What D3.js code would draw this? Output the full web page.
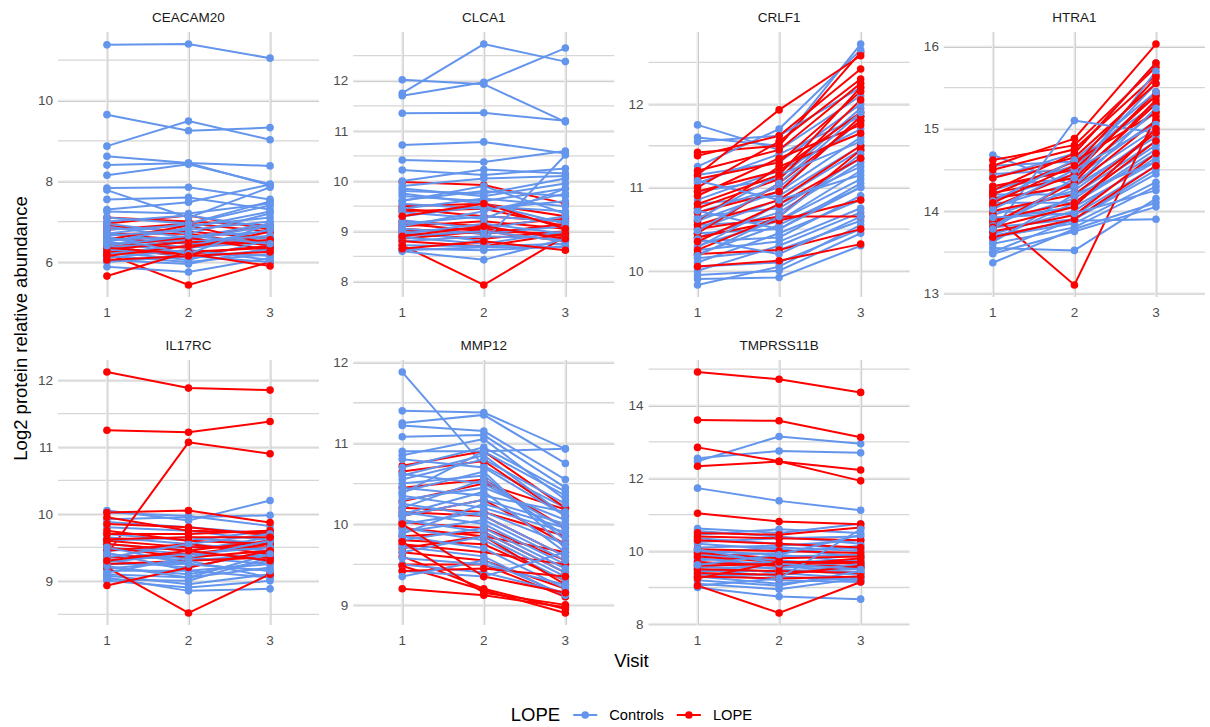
<!DOCTYPE html>
<html>
<head>
<meta charset="utf-8">
<script src="https://cdn.jsdelivr.net/npm/d3@7"></script>
<style>
  body { margin: 0; background: #fff; }
  svg { display: block; }
  text { font-family: "Liberation Sans", Arial, sans-serif; }
</style>
</head>
<body>
<div id="chart"></div>
<script>
// visits (x categories) and groups
var visits = ["1", "2", "3"];
var groups = ["Controls", "LOPE"];

// one row per subject: [visit1, visit2, visit3]
var ceacam20Controls = [
  [11.38, 11.40, 11.05], [9.65, 9.25, 9.33], [8.87, 9.49, 9.03], [8.62, 8.45, 7.90],
  [8.40, 8.45, 8.38], [8.15, 8.42, 7.93], [7.83, 7.85, 7.55], [7.78, 7.10, 7.85],
  [7.55, 7.60, 7.30], [7.30, 7.48, 7.92], [7.25, 7.20, 7.45], [7.10, 6.95, 7.40],
  [7.00, 7.15, 6.85], [6.95, 6.70, 7.20], [6.88, 6.60, 6.95], [6.80, 6.90, 7.10],
  [6.72, 6.45, 6.60], [6.65, 6.80, 7.00], [6.60, 6.35, 6.50], [6.55, 6.62, 6.75],
  [6.50, 6.20, 6.40], [6.45, 6.55, 6.90], [6.40, 6.10, 6.30], [6.35, 6.50, 6.65],
  [6.30, 6.25, 6.15], [6.25, 6.05, 6.55], [6.20, 6.40, 6.80], [6.15, 6.00, 6.20],
  [6.10, 6.30, 6.05], [6.05, 5.95, 6.35], [6.00, 6.15, 6.00], [5.88, 5.75, 6.10],
  [6.50, 6.85, 7.25], [6.70, 6.95, 7.50], [6.40, 6.65, 6.45], [6.62, 6.20, 6.95]
];
var ceacam20Lope = [
  [7.10, 7.00, 6.90], [6.95, 7.15, 6.80], [6.90, 6.75, 6.60], [6.80, 6.95, 6.75],
  [6.70, 6.70, 6.40], [6.68, 6.55, 6.95], [6.60, 6.45, 6.50], [6.55, 6.90, 6.45],
  [6.45, 6.35, 6.75], [6.40, 6.60, 6.30], [6.30, 6.50, 6.45], [6.25, 6.20, 6.40],
  [6.20, 5.43, 6.00], [6.15, 6.40, 6.55], [5.65, 6.25, 6.35], [6.35, 6.20, 5.90],
  [6.05, 6.15, 6.25]
];

var clca1Controls = [
  [11.75, 12.73, 12.38], [11.70, 11.97, 12.65], [12.02, 11.93, 11.18], [11.35, 11.36, 11.20],
  [10.72, 10.78, 10.55], [10.42, 10.38, 10.60], [10.22, 10.12, 10.25], [10.00, 10.23, 10.15],
  [9.90, 10.05, 10.10], [9.85, 9.70, 9.95], [9.80, 9.75, 10.05], [9.70, 9.60, 9.85],
  [9.62, 9.80, 9.70], [9.55, 9.45, 9.60], [9.45, 9.65, 9.50], [9.38, 9.25, 9.85],
  [9.30, 9.50, 9.40], [9.22, 9.05, 9.30], [9.15, 9.30, 9.20], [9.05, 8.95, 9.10],
  [9.00, 8.80, 10.52], [8.95, 9.15, 8.95], [8.88, 8.75, 9.00], [8.80, 8.90, 8.85],
  [8.72, 8.70, 8.75], [8.65, 8.62, 8.70], [8.60, 8.43, 8.85], [8.62, 8.68, 8.68],
  [9.60, 9.90, 9.35], [9.75, 9.55, 9.15], [9.10, 9.40, 9.75], [8.90, 9.00, 8.80]
];
var clca1Lope = [
  [9.98, 9.92, 9.55], [9.50, 9.55, 9.30], [9.45, 9.30, 9.20], [9.40, 9.45, 9.10],
  [9.20, 9.10, 9.25], [9.15, 9.00, 8.95], [9.10, 9.20, 9.05], [9.05, 8.95, 9.15],
  [9.00, 9.05, 8.90], [8.95, 8.85, 9.00], [8.85, 9.00, 8.80], [8.80, 8.70, 8.95],
  [8.72, 7.93, 8.90], [8.65, 8.80, 8.62], [9.30, 9.55, 9.05], [8.90, 9.10, 8.85]
];

var crlf1Controls = [
  [11.75, 11.45, 12.10], [11.60, 11.50, 12.72], [11.55, 11.62, 12.20], [11.25, 11.70, 12.65],
  [11.15, 11.30, 12.00], [11.05, 11.40, 11.85], [10.95, 11.10, 11.95], [10.85, 11.20, 11.70],
  [10.80, 10.90, 11.50], [10.70, 11.00, 11.80], [10.65, 10.75, 11.35], [10.60, 10.95, 11.60],
  [10.55, 10.60, 11.20], [10.50, 10.85, 11.45], [10.45, 10.50, 11.05], [10.40, 10.70, 11.30],
  [10.35, 10.40, 10.90], [10.30, 10.60, 11.10], [10.25, 10.35, 10.75], [10.20, 10.55, 11.00],
  [10.15, 10.25, 10.60], [10.10, 10.45, 10.85], [10.05, 10.10, 10.50], [10.00, 10.30, 10.70],
  [9.95, 10.00, 10.45], [9.90, 9.92, 10.30], [9.83, 10.05, 10.55], [10.28, 10.80, 11.25],
  [10.62, 11.15, 11.55], [10.38, 10.20, 10.65], [10.72, 10.50, 11.00], [10.48, 11.05, 11.90],
  [10.18, 10.65, 11.40], [11.08, 10.85, 11.15]
];
var crlf1Lope = [
  [11.42, 11.50, 12.62], [11.38, 11.62, 12.42], [11.15, 11.93, 12.58], [11.20, 11.45, 12.25],
  [11.10, 11.30, 12.15], [11.00, 11.55, 12.30], [10.95, 11.20, 11.90], [10.90, 11.35, 11.75],
  [10.75, 11.10, 12.05], [10.70, 10.95, 11.85], [10.60, 11.25, 11.65], [10.55, 10.85, 11.50],
  [10.50, 10.65, 11.45], [10.45, 11.05, 11.80], [10.40, 10.60, 10.85], [10.20, 10.25, 10.50],
  [10.25, 10.65, 10.65], [10.05, 10.12, 10.32], [10.35, 10.80, 11.35], [10.80, 11.15, 12.20]
];

var htra1Controls = [
  [14.68, 14.30, 14.90], [14.55, 14.60, 15.30], [14.45, 14.50, 15.55], [14.40, 14.70, 15.80],
  [14.30, 14.40, 15.10], [14.25, 14.55, 15.40], [14.20, 14.20, 14.85], [14.15, 14.45, 15.20],
  [14.10, 14.10, 14.70], [14.05, 14.35, 15.00], [14.00, 13.95, 14.55], [13.95, 14.25, 14.95],
  [13.90, 14.05, 14.60], [13.85, 14.15, 14.80], [13.80, 13.90, 14.45], [13.75, 15.10, 14.95],
  [13.72, 14.00, 14.65], [13.68, 13.85, 14.35], [13.65, 14.10, 14.75], [13.60, 13.80, 14.30],
  [13.55, 13.52, 14.15], [13.50, 13.90, 14.50], [13.48, 13.75, 14.05], [13.37, 13.78, 14.10],
  [13.70, 13.88, 13.90], [13.82, 14.30, 15.25], [14.02, 14.50, 15.05], [13.62, 14.20, 14.60],
  [13.92, 13.97, 14.25], [14.12, 14.62, 15.45], [13.78, 14.40, 15.70]
];
var htra1Lope = [
  [14.62, 14.80, 15.75], [14.55, 14.88, 16.03], [14.50, 14.75, 15.65], [14.40, 14.65, 15.55],
  [14.30, 14.50, 15.40], [14.25, 14.70, 15.80], [14.22, 14.40, 15.30], [14.20, 14.60, 15.20],
  [14.15, 14.30, 15.10], [14.05, 14.45, 15.45], [14.00, 14.20, 14.95], [13.95, 13.10, 15.15],
  [13.90, 14.10, 14.85], [13.85, 14.35, 15.35], [13.75, 13.95, 14.70], [13.68, 13.90, 14.55],
  [13.80, 14.05, 15.00], [14.10, 14.55, 15.62]
];

var il17rcControls = [
  [10.05, 9.90, 10.20], [10.02, 9.97, 9.82], [9.92, 9.95, 9.98], [9.88, 9.80, 9.70],
  [9.80, 9.75, 9.60], [9.70, 9.60, 9.75], [9.65, 9.55, 9.45], [9.60, 9.65, 9.55],
  [9.55, 9.45, 9.65], [9.50, 9.40, 9.35], [9.45, 9.50, 9.55], [9.40, 9.30, 9.40],
  [9.35, 9.35, 9.25], [9.30, 9.20, 9.45], [9.25, 9.25, 9.15], [9.20, 9.10, 9.30],
  [9.15, 9.15, 9.05], [9.10, 9.05, 9.20], [9.08, 8.95, 9.10], [9.05, 8.85, 8.88],
  [9.02, 9.00, 9.35], [9.00, 8.90, 9.00], [9.35, 9.55, 9.70], [9.28, 9.40, 9.50],
  [9.18, 9.30, 9.05], [9.42, 9.15, 9.25], [9.12, 9.35, 9.60], [9.50, 9.25, 9.15],
  [9.22, 9.05, 9.40]
];
var il17rcLope = [
  [12.12, 11.88, 11.85], [11.25, 11.22, 11.38], [9.40, 11.07, 10.90], [10.02, 10.05, 9.87],
  [9.95, 9.75, 9.72], [9.85, 9.80, 9.68], [9.75, 9.60, 9.55], [9.70, 9.70, 9.75],
  [9.60, 9.50, 9.50], [9.55, 9.45, 9.60], [9.50, 9.35, 9.45], [9.45, 9.55, 9.40],
  [9.35, 9.40, 9.55], [9.25, 9.30, 9.35], [9.20, 8.52, 9.10], [8.93, 9.20, 9.45],
  [9.62, 9.65, 9.65], [9.30, 9.45, 9.30]
];

var mmp12Controls = [
  [11.88, 10.72, 10.20], [11.40, 11.38, 10.93], [11.25, 11.35, 10.75], [11.22, 11.15, 10.55],
  [11.08, 11.10, 10.45], [10.90, 10.90, 10.93], [10.85, 11.05, 10.30], [10.80, 10.70, 10.10],
  [10.70, 10.95, 10.40], [10.62, 10.50, 9.95], [10.55, 10.80, 10.25], [10.50, 10.60, 9.80],
  [10.45, 10.35, 10.15], [10.40, 10.65, 9.70], [10.35, 10.20, 9.90], [10.30, 10.45, 10.05],
  [10.25, 10.10, 9.60], [10.20, 10.55, 9.85], [10.15, 10.00, 9.50], [10.10, 10.30, 10.00],
  [10.05, 9.90, 9.40], [10.00, 10.15, 9.75], [9.95, 9.80, 9.30], [9.90, 10.05, 9.55],
  [9.85, 9.70, 9.20], [9.80, 9.95, 9.45], [9.72, 9.60, 9.10], [9.65, 9.85, 9.35],
  [9.58, 9.50, 9.25], [9.50, 9.40, 9.15], [9.42, 9.35, 9.65], [9.35, 9.55, 9.12],
  [10.60, 10.85, 10.10], [10.38, 10.90, 10.35], [10.12, 10.40, 9.65], [9.88, 10.25, 9.95]
];
var mmp12Lope = [
  [10.72, 10.90, 10.20], [10.65, 10.78, 10.10], [10.45, 10.55, 9.95], [10.28, 10.50, 10.18],
  [10.20, 10.15, 9.85], [10.15, 10.10, 9.60], [10.10, 10.30, 9.75], [10.02, 9.95, 9.55],
  [9.95, 9.85, 9.65], [9.85, 9.90, 9.40], [9.80, 9.75, 9.30], [9.75, 9.65, 9.50],
  [9.70, 9.85, 9.25], [9.65, 9.55, 9.20], [9.60, 9.20, 8.95], [9.50, 9.50, 9.10],
  [9.48, 9.18, 8.90], [9.42, 9.45, 9.35], [9.20, 9.12, 8.97], [9.78, 9.15, 9.00],
  [10.00, 9.35, 9.15]
];

var tmprss11bControls = [
  [12.47, 13.15, 12.95], [12.55, 12.75, 12.70], [11.73, 11.38, 11.12], [10.62, 10.50, 10.75],
  [10.55, 10.40, 10.20], [10.45, 10.60, 10.50], [10.35, 10.20, 10.05], [10.25, 10.35, 10.40],
  [10.20, 10.05, 9.85], [10.10, 10.15, 10.30], [10.00, 9.90, 9.70], [9.95, 10.10, 10.00],
  [9.90, 9.75, 9.55], [9.85, 9.95, 10.15], [9.80, 9.60, 9.40], [9.75, 9.85, 9.90],
  [9.70, 9.50, 9.35], [9.65, 9.70, 9.75], [9.60, 9.40, 9.25], [9.55, 9.55, 9.60],
  [9.50, 9.30, 9.20], [9.45, 9.45, 9.50], [9.40, 9.20, 9.15], [9.35, 9.35, 9.65],
  [9.30, 9.10, 9.30], [9.20, 9.05, 9.45], [9.10, 8.95, 9.25], [9.00, 8.75, 8.68],
  [9.05, 9.25, 10.60], [9.62, 9.90, 10.45], [10.05, 9.65, 9.50]
];
var tmprss11bLope = [
  [14.92, 14.72, 14.36], [13.60, 13.58, 13.13], [12.85, 12.47, 11.93], [12.33, 12.46, 12.23],
  [11.04, 10.81, 10.74], [10.50, 10.45, 10.65], [10.40, 10.35, 10.30], [10.30, 10.20, 10.10],
  [10.05, 10.00, 9.95], [9.95, 9.80, 9.85], [9.85, 9.70, 9.65], [9.70, 9.60, 9.80],
  [9.60, 9.65, 9.55], [9.50, 9.45, 9.40], [9.40, 9.35, 9.60], [9.30, 9.25, 9.30],
  [9.05, 8.30, 9.15], [9.25, 9.70, 9.70]
];

// y-axis break labels per panel
var ceacam20Ticks = [6, 8, 10];
var clca1Ticks = [8, 9, 10, 11, 12];
var crlf1Ticks = [10, 11, 12];
var htra1Ticks = [13, 14, 15, 16];
var il17rcTicks = [9, 10, 11, 12];
var mmp12Ticks = [9, 10, 11, 12];
var tmprss11bTicks = [8, 10, 12, 14];

var panels = [
  {name: "CEACAM20", controls: ceacam20Controls, lope: ceacam20Lope, ticks: ceacam20Ticks},
  {name: "CLCA1", controls: clca1Controls, lope: clca1Lope, ticks: clca1Ticks},
  {name: "CRLF1", controls: crlf1Controls, lope: crlf1Lope, ticks: crlf1Ticks},
  {name: "HTRA1", controls: htra1Controls, lope: htra1Lope, ticks: htra1Ticks},
  {name: "IL17RC", controls: il17rcControls, lope: il17rcLope, ticks: il17rcTicks},
  {name: "MMP12", controls: mmp12Controls, lope: mmp12Lope, ticks: mmp12Ticks},
  {name: "TMPRSS11B", controls: tmprss11bControls, lope: tmprss11bLope, ticks: tmprss11bTicks}
];

var colors = {Controls: "#6495ED", LOPE: "#FF0000"};

// layout
var W = 1210, H = 727;
var left0 = 58, panelW = 261, gapX = 34.3, panelH = 265;
var rowTops = [32, 360];

var svg = d3.select("#chart").append("svg")
    .attr("width", W)
    .attr("height", H);

var x = d3.scalePoint().domain(visits).range([0, panelW]).padding(0.6);

// mix the two groups so lines overlap as in a per-subject plot
function subjectsOf(p) {
    var out = [];
    var nc = p.controls.length, nl = p.lope.length, j = 0;
    p.controls.forEach(function (d, i) {
        out.push({group: "Controls", values: d});
        while (j < nl && (j + 1) * nc / nl <= i + 1) {
            out.push({group: "LOPE", values: p.lope[j]});
            j++;
        }
    });
    while (j < nl) { out.push({group: "LOPE", values: p.lope[j]}); j++; }
    return out;
}

function gridLine(g, x1, y1, x2, y2, major) {
    if (major) {
        g.append("line").attr("x1", x1).attr("x2", x2).attr("y1", y1).attr("y2", y2)
            .attr("stroke", "#ebebeb").attr("stroke-width", 2);
        var dx = x1 === x2 ? 1 : 0, dy = y1 === y2 ? 1 : 0;
        g.append("line").attr("x1", x1 + dx).attr("x2", x2 + dx).attr("y1", y1 + dy).attr("y2", y2 + dy)
            .attr("stroke", "#cacaca").attr("stroke-width", 1);
    } else {
        g.append("line").attr("x1", x1).attr("x2", x2).attr("y1", y1).attr("y2", y2)
            .attr("stroke", "#d6d6d6").attr("stroke-width", 1.3);
    }
}

panels.forEach(function (p, k) {
    var col = k % 4, row = Math.floor(k / 4);
    var px = left0 + col * (panelW + gapX), py = rowTops[row];
    var g = svg.append("g").attr("transform", "translate(" + px + "," + py + ")");

    var all = [];
    p.controls.concat(p.lope).forEach(function (d) { all = all.concat(d); });
    var lo = d3.min(all), hi = d3.max(all), pad = (hi - lo) * 0.05;
    var y = d3.scaleLinear().domain([lo - pad, hi + pad]).range([panelH, 0]);

    // minor breaks halfway between majors
    var step = p.ticks[1] - p.ticks[0];
    var minor = [p.ticks[0] - step / 2].concat(p.ticks.map(function (t) { return t + step / 2; }))
        .filter(function (v) { return v >= y.domain()[0] && v <= y.domain()[1]; });

    minor.forEach(function (v) { gridLine(g, 0, y(v), panelW, y(v), false); });
    p.ticks.forEach(function (v) { gridLine(g, 0, y(v), panelW, y(v), true); });
    visits.forEach(function (v) { gridLine(g, x(v), 0, x(v), panelH, true); });

    // strip title
    g.append("text")
        .attr("x", panelW / 2).attr("y", -10)
        .attr("text-anchor", "middle")
        .attr("font-size", 13.5).attr("fill", "#1a1a1a")
        .text(p.name);

    // y tick labels
    g.selectAll(".ytick").data(p.ticks).enter().append("text")
        .attr("x", -5).attr("y", function (d) { return y(d); })
        .attr("dy", "0.35em")
        .attr("text-anchor", "end")
        .attr("font-size", 13.5).attr("fill", "#4d4d4d")
        .text(function (d) { return d; });

    // x tick labels
    g.selectAll(".xtick").data(visits).enter().append("text")
        .attr("x", function (d) { return x(d); }).attr("y", panelH + 20)
        .attr("text-anchor", "middle")
        .attr("font-size", 13.5).attr("fill", "#4d4d4d")
        .text(function (d) { return d; });

    var subjects = subjectsOf(p);
    var line = d3.line()
        .x(function (d, i) { return x(visits[i]); })
        .y(function (d) { return y(d); });

    g.selectAll(".subj").data(subjects).enter().append("path")
        .attr("d", function (d) { return line(d.values); })
        .attr("fill", "none")
        .attr("stroke", function (d) { return colors[d.group]; })
        .attr("stroke-width", 2);

    subjects.forEach(function (s) {
        g.selectAll(null).data(s.values).enter().append("circle")
            .attr("cx", function (d, i) { return x(visits[i]); })
            .attr("cy", function (d) { return y(d); })
            .attr("r", 3.8)
            .attr("fill", colors[s.group]);
    });
});

// axis titles
var plotLeft = left0, plotRight = left0 + 4 * panelW + 3 * gapX;
svg.append("text")
    .attr("x", (plotLeft + plotRight) / 2).attr("y", 667)
    .attr("text-anchor", "middle")
    .attr("font-size", 18.5).attr("fill", "#000")
    .text("Visit");

svg.append("text")
    .attr("transform", "translate(27," + ((rowTops[0] + rowTops[1] + panelH) / 2) + ") rotate(-90)")
    .attr("text-anchor", "middle")
    .attr("font-size", 18.5).attr("fill", "#000")
    .text("Log2 protein relative abundance");

// legend
var legend = svg.append("g");
var lt = legend.append("text").attr("x", 0).attr("y", 721)
    .attr("font-size", 18.5).attr("fill", "#000").text("LOPE");
var cx = lt.node().getComputedTextLength() + 13;
groups.forEach(function (gname) {
    legend.append("line").attr("x1", cx).attr("x2", cx + 24).attr("y1", 715).attr("y2", 715)
        .attr("stroke", colors[gname]).attr("stroke-width", 2);
    legend.append("circle").attr("cx", cx + 12).attr("cy", 715).attr("r", 3.8)
        .attr("fill", colors[gname]);
    var t = legend.append("text").attr("x", cx + 36).attr("y", 720)
        .attr("font-size", 14.7).attr("fill", "#000").text(gname);
    cx += 36 + t.node().getComputedTextLength() + 13;
});
var lw = cx - 13;
legend.attr("transform", "translate(" + ((plotLeft + plotRight) / 2 - lw / 2) + ",0)");
</script>
</body>
</html>
